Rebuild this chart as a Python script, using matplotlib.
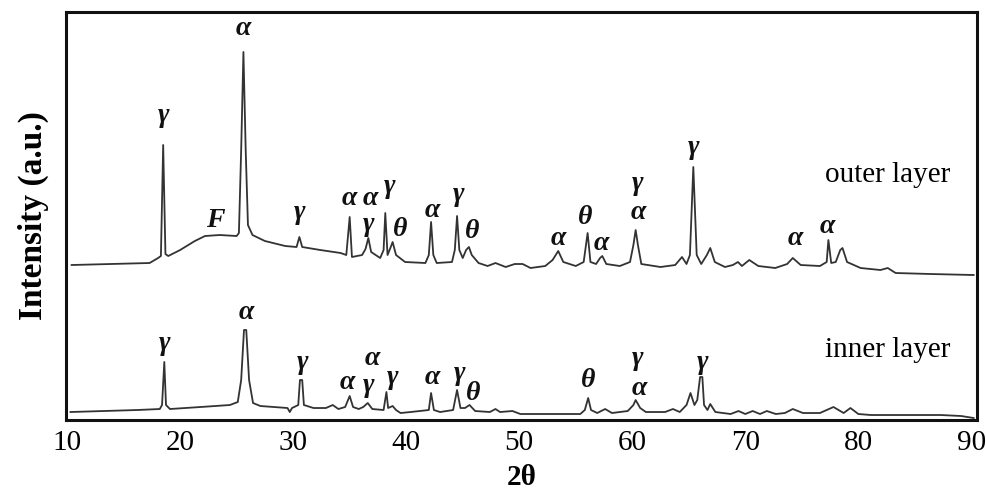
import matplotlib
matplotlib.use("Agg")
import matplotlib.pyplot as plt

plt.rcParams['font.family'] = ['Liberation Serif', 'DejaVu Serif']

# outer layer trace (2theta, intensity a.u.)
outer_x = [10.4, 17.3, 18.05, 18.3, 18.5, 18.7, 18.95, 20.0, 21.3, 22.2, 23.5, 25.0, 25.2, 25.4, 25.6,
           25.8, 26.0, 26.4, 27.5, 29.3, 30.3, 30.55, 30.8, 32.4, 34.2, 34.7, 35.0, 35.2, 36.1, 36.4,
           36.65, 36.9, 37.7, 38.0, 38.15, 38.35, 38.6, 38.8, 39.1, 39.9, 41.7, 42.0, 42.2, 42.4, 42.7,
           44.05, 44.3, 44.5, 44.7, 45.0, 45.3, 45.55, 45.8, 46.4, 47.2, 47.9, 48.8, 49.6, 50.3, 51.0,
           52.3, 52.95, 53.45, 53.9, 55.0, 55.7, 56.05, 56.3, 56.8, 57.15, 57.35, 57.7, 58.9, 59.8, 60.1,
           60.3, 60.5, 60.8, 62.5, 63.8, 64.4, 64.8, 65.1, 65.4, 65.7, 66.1, 66.6, 66.9, 67.3, 68.2,
           68.9, 69.35, 69.7, 70.35, 71.15, 72.65, 73.7, 74.2, 74.9, 76.6, 77.2, 77.35, 77.6, 78.0, 78.4,
           78.6, 79.0, 80.2, 81.95, 82.6, 83.3, 86.4, 90.2]
outer_y = [155, 157, 162, 164, 275, 166, 164, 170, 179, 184, 185, 184, 187, 270, 368,
           270, 195, 185, 179, 174, 173, 183, 173, 170, 167, 165, 203, 163, 165, 171,
           182, 168, 162, 170, 207, 165, 172, 178, 165, 158, 157, 165, 198, 165, 157,
           158, 170, 204, 170, 162, 170, 173, 165, 157, 154, 157, 153, 156, 156, 152,
           154, 160, 169, 158, 154, 158, 187, 158, 156, 162, 164, 156, 154, 158, 175,
           190, 175, 156, 153, 155, 163, 156, 165, 253, 165, 156, 165, 172, 158, 153,
           155, 158, 154, 160, 154, 152, 156, 162, 155, 154, 158, 180, 157, 158, 170,
           172, 158, 152, 150, 152, 147, 146, 145]

# inner layer trace
inner_x = [10.3, 16.2, 18.2, 18.4, 18.6, 18.75, 19.1, 21.8, 24.4, 25.1, 25.4, 25.65, 25.85, 26.1, 26.45,
           27.1, 29.5, 29.7, 29.9, 30.45, 30.6, 30.8, 30.95, 31.8, 32.9, 33.5, 34.0, 34.6, 35.0, 35.3,
           35.8, 36.2, 36.6, 37.0, 38.0, 38.25, 38.4, 38.8, 39.1, 39.5, 40.4, 42.0, 42.2, 42.45, 43.0,
           44.15, 44.5, 44.8, 45.2, 45.6, 46.1, 47.4, 47.9, 48.3, 49.4, 50.1, 52.7, 55.4, 55.8, 56.1,
           56.35, 56.9, 57.6, 58.2, 59.6, 60.1, 60.3, 60.7, 61.2, 62.9, 63.6, 64.2, 64.8, 65.15, 65.5,
           65.75, 66.0, 66.2, 66.35, 66.65, 66.9, 67.35, 68.7, 69.4, 70.0, 70.65, 71.3, 71.9, 72.7, 73.5,
           74.2, 75.1, 76.6, 77.8, 78.7, 79.3, 80.0, 81.1, 87.3, 89.1, 90.2]
inner_y = [8, 10, 11, 15, 58, 15, 11, 13, 15, 18, 40, 90, 90, 40, 17,
           14, 12, 8, 12, 15, 40, 40, 15, 12, 12, 15, 11, 13, 24, 13,
           11, 13, 17, 11, 10, 28, 12, 14, 10, 7, 8, 10, 27, 10, 8,
           10, 30, 12, 12, 15, 9, 8, 11, 8, 9, 6, 6, 6, 10, 22,
           10, 7, 11, 7, 9, 15, 20, 12, 8, 8, 11, 8, 15, 27, 15,
           20, 43, 43, 15, 10, 16, 8, 6, 9, 6, 9, 6, 9, 6, 7,
           11, 7, 7, 13, 7, 12, 6, 5, 5, 4, 2]

# phase labels: (symbol, 2theta, height)
outer_labels = [('γ', 18.5, 305), ('α', 25.6, 392), ('F', 23.1, 200), ('γ', 30.6, 208),
                ('α', 35.0, 222), ('α', 36.8, 222), ('γ', 36.7, 196), ('γ', 38.5, 234),
                ('θ', 39.5, 191), ('α', 42.3, 210), ('γ', 44.6, 226), ('θ', 45.8, 189),
                ('α', 53.5, 182), ('θ', 55.8, 203), ('α', 57.3, 177), ('γ', 60.5, 237),
                ('α', 60.5, 208), ('γ', 65.4, 273), ('α', 74.4, 182), ('α', 77.3, 194)]
inner_labels = [('γ', 18.6, 77), ('α', 25.9, 108), ('γ', 30.8, 58), ('α', 34.8, 38),
                ('α', 37.0, 62), ('γ', 36.7, 35), ('γ', 38.8, 43), ('α', 42.3, 43),
                ('γ', 44.7, 47), ('θ', 45.9, 27), ('θ', 56.1, 40), ('γ', 60.5, 62),
                ('α', 60.6, 32), ('γ', 66.2, 58)]

fig = plt.figure(figsize=(9.86, 4.98), dpi=100)
ax = fig.add_axes([0.0669, 0.1566, 0.924, 0.8193])

ax.plot(outer_x, outer_y, color='#333333', lw=1.3)
ax.plot(inner_x, inner_y, color='#333333', lw=1.3)

for s, x, y in outer_labels + inner_labels:
    ax.text(x, y, s, ha='center', va='center', fontsize=20,
            fontweight='bold', fontstyle='italic', color='#111111')

ax.text(82.6, 245, 'outer layer', ha='center', va='center', fontsize=21)
ax.text(82.6, 70, 'inner layer', ha='center', va='center', fontsize=21)

ax.set_xlim(9.9, 90.5)
ax.set_ylim(0, 408)
ax.set_xticks([10, 20, 30, 40, 50, 60, 70, 80, 90])
ax.set_yticks([])
ax.tick_params(axis='x', length=0, pad=7, labelsize=21)
for sp in ax.spines.values():
    sp.set_linewidth(2.2)
    sp.set_color('#111111')

ax.set_xlabel('2θ', fontsize=21, fontweight='bold', labelpad=6)
ax.set_ylabel('Intensity (a.u.)', fontsize=24, fontweight='bold', labelpad=12)

fig.savefig('out.png', dpi=100)
